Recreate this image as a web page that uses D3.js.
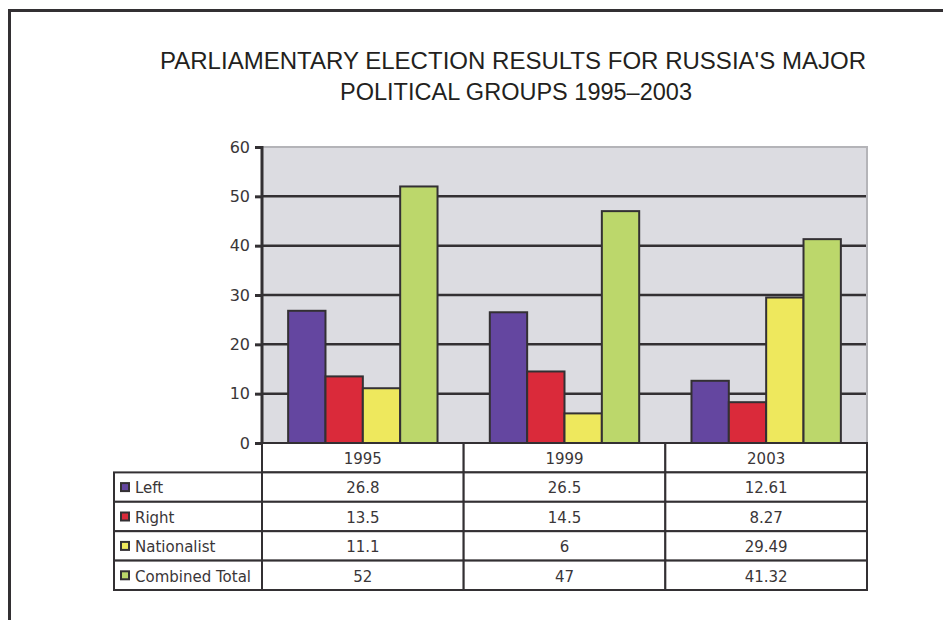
<!DOCTYPE html>
<html>
<head>
<meta charset="utf-8">
<script src="https://cdn.jsdelivr.net/npm/d3@7"></script>
<style>
  body { margin: 0; background: #fff; }
  svg { display: block; }
</style>
</head>
<body>
<svg width="943" height="620"></svg>
<script>
// chart data
let years = ['1995', '1999', '2003'];
let groups = ['Left', 'Right', 'Nationalist', 'Combined Total'];
let left = [26.8, 26.5, 12.61];
let right = [13.5, 14.5, 8.27];
let nationalist = [11.1, 6, 29.49];
let combined = [52, 47, 41.32];
let labels = [['26.8', '26.5', '12.61'], ['13.5', '14.5', '8.27'], ['11.1', '6', '29.49'], ['52', '47', '41.32']];
let yTicks = [0, 10, 20, 30, 40, 50, 60];

let series = [left, right, nationalist, combined];
let colors = ['#6446a0', '#da2a3a', '#eee85d', '#bcd76b'];
let dark = '#333033';
let font = '"DejaVu Sans", sans-serif';

let svg = d3.select('svg');

// frame
svg.append('path')
    .attr('d', 'M9.5,620 V10.5 H943')
    .attr('fill', 'none')
    .attr('stroke', dark)
    .attr('stroke-width', 3);

// title
let title = svg.append('text')
    .attr('text-anchor', 'middle')
    .attr('font-family', '"Liberation Sans Narrow", "Liberation Sans", sans-serif')
    .attr('font-size', 23)
    .attr('fill', '#231f20');
title.append('tspan').attr('x', 513).attr('y', 69)
    .attr('textLength', 706).attr('lengthAdjust', 'spacingAndGlyphs')
    .text("PARLIAMENTARY ELECTION RESULTS FOR RUSSIA'S MAJOR");
title.append('tspan').attr('x', 516).attr('y', 100)
    .attr('textLength', 352).attr('lengthAdjust', 'spacingAndGlyphs')
    .text('POLITICAL GROUPS 1995\u20132003');

let plot = { left: 262, right: 867, top: 147, bottom: 443 };

let x0 = d3.scaleBand()
    .domain(years)
    .range([plot.left, plot.right]);

let x1 = d3.scaleBand()
    .domain(d3.range(groups.length))
    .range([0, x0.bandwidth()])
    .paddingOuter(0.7);

let y = d3.scaleLinear()
    .domain([0, 60])
    .range([plot.bottom, plot.top]);

// plot background
svg.append('rect')
    .attr('x', plot.left)
    .attr('y', plot.top)
    .attr('width', plot.right - plot.left)
    .attr('height', plot.bottom - plot.top)
    .attr('fill', '#dcdce1')
    .attr('stroke', '#b4b4b8')
    .attr('stroke-width', 2);

// gridlines
svg.append('g')
    .selectAll('line')
    .data(yTicks.filter(d => d > 0 && d < 60))
    .enter()
    .append('line')
    .attr('x1', plot.left)
    .attr('x2', plot.right - 1)
    .attr('y1', d => y(d))
    .attr('y2', d => y(d))
    .attr('stroke', dark)
    .attr('stroke-width', 2.5);

// bars
let bars = svg.append('g');
years.forEach((yr, i) => {
  bars.selectAll(null)
      .data(series.map((s, k) => ({ k: k, v: s[i] })))
      .enter()
      .append('rect')
      .attr('x', d => x0(yr) + x1(d.k))
      .attr('y', d => y(d.v))
      .attr('width', x1.bandwidth())
      .attr('height', d => y(0) - y(d.v))
      .attr('fill', d => colors[d.k])
      .attr('stroke', dark)
      .attr('stroke-width', 2);
});

// y axis
let yAxis = d3.axisLeft(y)
    .tickValues(yTicks)
    .tickSize(7)
    .tickPadding(5);

let yg = svg.append('g')
    .attr('transform', `translate(${plot.left},0)`)
    .call(yAxis);
yg.select('.domain').remove();
yg.selectAll('.tick line').attr('stroke', dark).attr('stroke-width', 3);
yg.selectAll('.tick text')
    .attr('font-family', font)
    .attr('font-size', 16)
    .attr('fill', '#3a3638');
yg.append('line')
    .attr('x1', 0).attr('x2', 0)
    .attr('y1', plot.top - 1).attr('y2', plot.bottom)
    .attr('stroke', dark)
    .attr('stroke-width', 3);

// data table
let rowKeys = ['header'].concat(groups);
let rowY = d3.scaleBand()
    .domain(rowKeys)
    .range([plot.bottom, 590]);

let table = svg.append('g');
let labelLeft = 114;

// header row cells
years.forEach(yr => {
  table.append('rect')
      .attr('x', x0(yr))
      .attr('y', rowY('header'))
      .attr('width', x0.bandwidth())
      .attr('height', rowY.bandwidth())
      .attr('fill', '#fff')
      .attr('stroke', dark)
      .attr('stroke-width', 2);
  table.append('text')
      .attr('x', x0(yr) + x0.bandwidth() / 2)
      .attr('y', rowY('header') + rowY.bandwidth() / 2)
      .attr('dy', '0.4em')
      .attr('text-anchor', 'middle')
      .attr('font-family', font)
      .attr('font-size', 15)
      .attr('fill', '#3a3638')
      .text(yr);
});

groups.forEach((g, k) => {
  let ry = rowY(g);
  let rh = rowY.bandwidth();
  table.append('rect')
      .attr('x', labelLeft)
      .attr('y', ry)
      .attr('width', plot.left - labelLeft)
      .attr('height', rh)
      .attr('fill', '#fff')
      .attr('stroke', dark)
      .attr('stroke-width', 2);
  table.append('rect')
      .attr('x', 121)
      .attr('y', ry + rh / 2 - 4)
      .attr('width', 8)
      .attr('height', 8)
      .attr('fill', colors[k])
      .attr('stroke', dark)
      .attr('stroke-width', 2);
  table.append('text')
      .attr('x', 135)
      .attr('y', ry + rh / 2)
      .attr('dy', '0.42em')
      .attr('font-family', font)
      .attr('font-size', 15)
      .attr('fill', '#3a3638')
      .text(g);
  years.forEach((yr, i) => {
    table.append('rect')
        .attr('x', x0(yr))
        .attr('y', ry)
        .attr('width', x0.bandwidth())
        .attr('height', rh)
        .attr('fill', '#fff')
        .attr('stroke', dark)
        .attr('stroke-width', 2);
    table.append('text')
        .attr('x', x0(yr) + x0.bandwidth() / 2)
        .attr('y', ry + rh / 2)
        .attr('dy', '0.42em')
        .attr('text-anchor', 'middle')
        .attr('font-family', font)
        .attr('font-size', 15)
        .attr('fill', '#3a3638')
        .text(labels[k][i]);
  });
});
</script>
</body>
</html>
